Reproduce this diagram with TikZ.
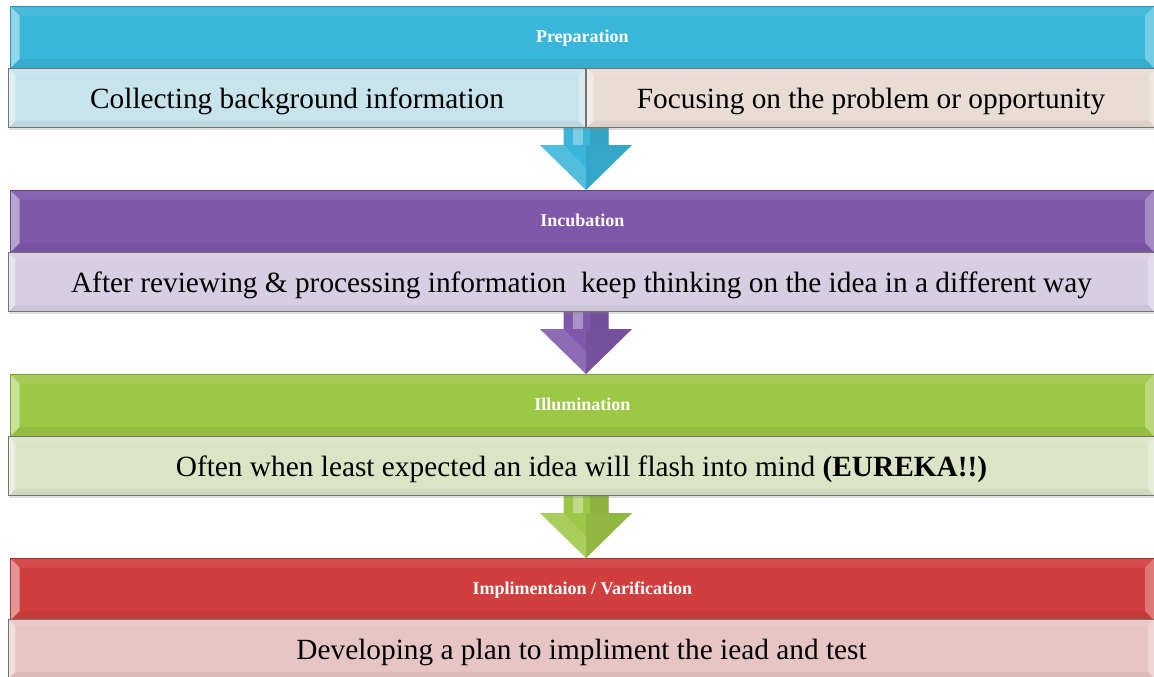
\documentclass[tikz,border=0pt]{standalone}
\usepackage{fontspec}
\setmainfont{Liberation Serif}
\usetikzlibrary{positioning,calc,backgrounds,shadows}
\definecolor{prepcol}{RGB}{57,182,218}
\definecolor{prepsubA}{RGB}{199,227,236}
\definecolor{prepsubB}{RGB}{233,220,212}
\definecolor{incubcol}{RGB}{127,88,170}
\definecolor{incubsub}{RGB}{215,206,227}
\definecolor{illumcol}{RGB}{157,200,70}
\definecolor{illumsub}{RGB}{219,229,198}
\definecolor{implcol}{RGB}{209,62,62}
\definecolor{implsub}{RGB}{232,197,197}

\tikzset{
  % glossy bevel drawn inside a box
  bevel/.style={path picture={
    \coordinate (bnw) at (path picture bounding box.north west);
    \coordinate (bne) at (path picture bounding box.north east);
    \coordinate (bsw) at (path picture bounding box.south west);
    \coordinate (bse) at (path picture bounding box.south east);
    \fill[white,opacity=0.08] (bnw) -- (bne) -- ([shift={(-#1,-#1)}]bne) -- ([shift={(#1,-#1)}]bnw) -- cycle;
    \fill[black,opacity=0.05] (bsw) -- (bse) -- ([shift={(-#1,#1)}]bse) -- ([shift={(#1,#1)}]bsw) -- cycle;
    \fill[white,opacity=0.45] (bnw) -- (bsw) -- ([shift={(#1,#1)}]bsw) -- ([shift={(#1,-#1)}]bnw) -- cycle;
    \fill[white,opacity=0.30] (bne) -- (bse) -- ([shift={(-#1,#1)}]bse) -- ([shift={(-#1,-#1)}]bne) -- cycle;
  }},
  stagebar/.style={draw=#1!80!black,line width=0.5pt,fill=#1,bevel=7pt,
    minimum width=858pt,minimum height=46.5pt,inner sep=0pt,anchor=north west,
    text height=11pt,text depth=2.8pt,
    text=white,font=\bfseries\fontsize{13.5}{16}\selectfont},
  notebar/.style={draw=black!55,line width=0.8pt,fill=#1,bevel=5pt,
    minimum width=859.5pt,minimum height=44.25pt,inner sep=0pt,anchor=north west,
    text height=18pt,text depth=3pt,
    font=\fontsize{22}{26}\selectfont,
    drop shadow={shadow xshift=0pt,shadow yshift=-1.5pt,opacity=0.25}},
}

% block arrow from one stage down to the next
\newcommand{\stagearrow}[3]{%
  \path (mid |- #1.south) coordinate (s) (mid |- #2.north) coordinate (t);
  \fill[#3] ($(s)+(-22.5,-6)$) -- ($(s)+(22.5,-6)$) -- ($(s)+(22.5,17)$) -- ($(s)+(46,17)$)
    -- (t) -- ($(s)+(-46,17)$) -- ($(s)+(-22.5,17)$) -- cycle;
  \fill[white,opacity=0.35] ($(s)+(-13,-6)$) rectangle ($(s)+(-3,17)$);
  \fill[black,opacity=0.10] ($(s)+(4,-6)$) rectangle ($(s)+(22.5,17)$);
  \fill[black,opacity=0.08] ($(s)+(0,17)$) -- ($(s)+(46,17)$) -- (t) -- cycle;
  \fill[white,opacity=0.12] ($(s)+(-46,17)$) -- ($(s)+(-22.5,17)$) -- ($(s)+(0,40)$) -- (t) -- cycle;
}

\begin{document}
\begin{tikzpicture}[x=0.75pt,y=-0.75pt]
\useasboundingbox (0,0) rectangle (1154,676);
\coordinate (mid) at (586,0);
% stage 1
\node[stagebar=prepcol] (prep) at (10,6) {Preparation};
\node[notebar=prepsubA,minimum width=432.75pt] (prepA) at (8,68) {Collecting background information};
\node[notebar=prepsubB,minimum width=426.75pt,right=0pt of prepA] (prepB) {Focusing on the problem or opportunity};
% stage 2
\node[stagebar=incubcol] (incub) at (10,190) {Incubation};
\node[notebar=incubsub] (incubsub) at (8,252) {After reviewing \& processing information~ keep thinking on the idea in a different way};
% stage 3
\node[stagebar=illumcol] (illum) at (10,374) {Illumination};
\node[notebar=illumsub] (illumsub) at (8,436) {Often when least expected an idea will flash into mind \textbf{(EUREKA!!)}};
% stage 4
\node[stagebar=implcol] (impl) at (10,558) {Implimentaion / Varification};
\node[notebar=implsub] (implsub) at (8,619) {Developing a plan to impliment the iead and test};
% arrows behind the bars
\begin{scope}[on background layer]
\stagearrow{prepA}{incub}{prepcol}
\stagearrow{incubsub}{illum}{incubcol}
\stagearrow{illumsub}{impl}{illumcol}
\end{scope}
\end{tikzpicture}
\end{document}
